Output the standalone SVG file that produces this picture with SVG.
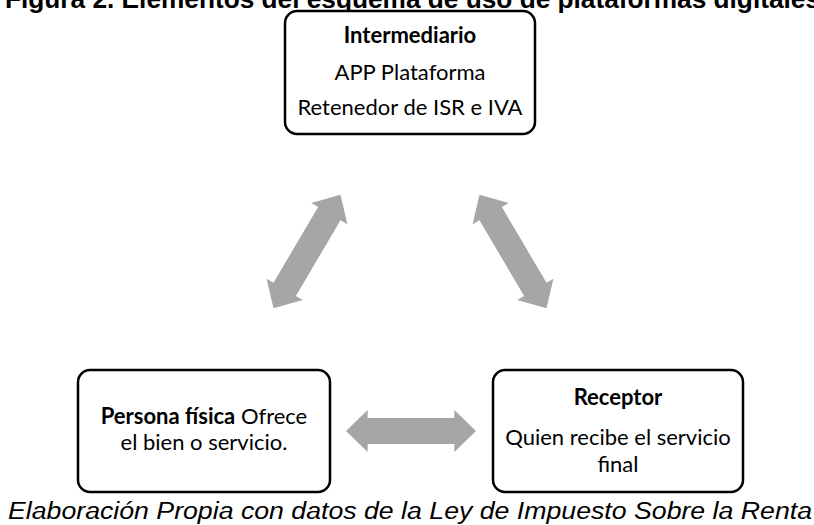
<svg xmlns="http://www.w3.org/2000/svg" width="814" height="525" viewBox="0 0 814 525">
<style>
.box{fill:#fff;stroke:#000;stroke-width:2.5}
.t{font-family:Lato,"Liberation Sans",sans-serif;font-size:22px;fill:#000;text-anchor:middle}
.b{font-weight:bold}
.arr{fill:#A6A6A6}
.title{font-family:"Liberation Sans",Arial,sans-serif;font-size:25px;font-weight:bold;fill:#000}
.cap{font-family:"Liberation Sans",Arial,sans-serif;font-size:23px;font-style:italic;fill:#000}
</style>
<defs>
<path id="dbl" d="M-66,0 L-44,-21 L-44,-13 L44,-13 L44,-21 L66,0 L44,21 L44,13 L-44,13 L-44,21 Z"/>
</defs>
<rect width="814" height="525" fill="#fff"/>
<text class="title" x="5" y="8" textLength="815" lengthAdjust="spacingAndGlyphs">Figura 2. Elementos del esquema de uso de plataformas digitales</text>
<g id="intermediario">
<rect class="box" x="285" y="11" width="250" height="123" rx="12"/>
<text class="t b" x="410" y="43">Intermediario</text>
<text class="t" x="410" y="80">APP Plataforma</text>
<text class="t" x="410" y="115">Retenedor de ISR e IVA</text>
</g>
<g id="persona">
<rect class="box" x="78" y="370" width="252" height="122" rx="12"/>
<text class="t" x="204" y="424"><tspan class="b">Persona física</tspan> Ofrece</text>
<text class="t" x="204" y="450">el bien o servicio.</text>
</g>
<g id="receptor">
<rect class="box" x="493" y="370" width="250" height="122" rx="12"/>
<text class="t b" x="618" y="405">Receptor</text>
<text class="t" x="618" y="445">Quien recibe el servicio</text>
<text class="t" x="618" y="472">final</text>
</g>
<g id="connectors">
<use href="#dbl" class="arr" transform="translate(307,251.5) rotate(-59.5)"/>
<use href="#dbl" class="arr" transform="translate(513,251.5) rotate(59.5)"/>
<use href="#dbl" class="arr" transform="translate(411,431) scale(0.985,1)"/>
</g>
<text class="cap" x="8" y="519" textLength="804" lengthAdjust="spacingAndGlyphs">Elaboración Propia con datos de la Ley de Impuesto Sobre la Renta</text>
</svg>
